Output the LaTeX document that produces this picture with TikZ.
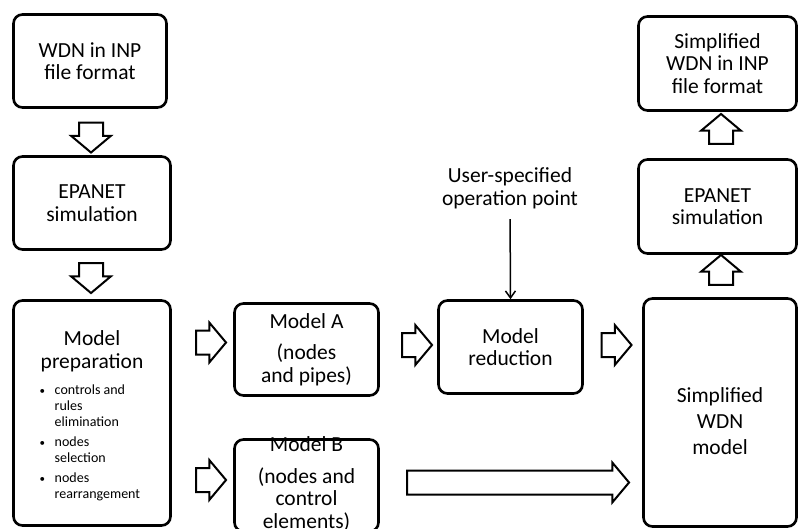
\documentclass[tikz,border=0pt]{standalone}
\usepackage{fontspec}
\setmainfont{Carlito}
\usetikzlibrary{arrows.meta, shapes.arrows}

\newcommand{\stepdot}{\makebox[16pt][l]{\hspace{1pt}\fontsize{11}{11}\selectfont\textbullet}}
\newcommand{\stepgap}{\hspace*{16pt}}

\begin{document}
\begin{tikzpicture}[
    x=1pt, y=-1pt,
    box/.style={draw, line width=2.6pt, rounded corners=9pt, align=center, inner sep=0pt, font=\fontsize{21.5}{22.5}\selectfont},
    txt/.style={align=center, inner sep=0pt, font=\fontsize{21.5}{22.5}\selectfont},
    bigarrow/.style={single arrow, draw, line width=2pt, inner xsep=0pt, inner ysep=11pt, single arrow head extend=8pt, single arrow tip angle=100, minimum height=30pt},
    thinarrow/.style={-{Straight Barb[length=7pt, width=10pt]}, line width=1.5pt}
]
\clip (0,0) rectangle (799,529);

\node[box, minimum width=153pt, minimum height=93pt] (wdn) at (90,61) {WDN in INP\\file format};
\node[box, minimum width=157pt, minimum height=93pt] (sim) at (92,203) {EPANET\\simulation};

\node[box, minimum width=157pt, minimum height=225pt] (prep) at (92,413) {};
\node[txt] (preptitle) at (92,351.5) {Model\\preparation};
\node[anchor=north west, align=left, inner sep=0pt, font=\fontsize{14}{15.6}\selectfont] (steps) at (38.5,385) {%
\stepdot controls and\\ \stepgap rules\\ \stepgap elimination\\[5pt]
\stepdot nodes\\ \stepgap selection\\[5pt]
\stepdot nodes\\ \stepgap rearrangement};

\node[box, minimum width=144pt, minimum height=92pt] (modelA) at (306.5,349.5) {Model A\\[9pt](nodes\\and pipes)};
\node[txt] (modelBtext) at (306.5,484) {Model B\\[9pt](nodes and\\control\\elements)};
\node[box, minimum width=144pt, minimum height=92pt] (modelB) at (306.5,485.5) {};

\node[txt] (user) at (510,188.5) {User-specified\\operation point};
\node[box, minimum width=144pt, minimum height=93pt] (red) at (510.5,347) {Model\\reduction};

\node[box, minimum width=153pt, minimum height=228pt] (simp) at (720,412.5) {};
\node[txt, font=\fontsize{21.5}{26}\selectfont] (simptext) at (720,421) {Simplified\\WDN\\model};
\node[box, minimum width=158pt, minimum height=94pt] (sim2) at (717.5,206.5) {EPANET\\simulation};
\node[box, minimum width=158pt, minimum height=94pt] (out) at (717.5,63.5) {Simplified\\WDN in INP\\file format};

\node[bigarrow, rotate=-90] (down1) at (91,132.5) {};
\node[bigarrow, rotate=-90] (down2) at (91,273) {};
\node[bigarrow] (toA) at (206,342.5) {};
\node[bigarrow] (toB) at (206,480) {};
\node[bigarrow] (tored) at (412,345) {};
\node[bigarrow] (tosimp) at (611.5,345) {};
\node[bigarrow, minimum height=222pt] (bypass) at (513,482.5) {};
\node[bigarrow, rotate=90] (up1) at (721,275) {};
\node[bigarrow, rotate=90] (up2) at (721,134) {};

\draw[thinarrow, shorten <=10pt] (user.south) -- (red.north);

\end{tikzpicture}
\end{document}
